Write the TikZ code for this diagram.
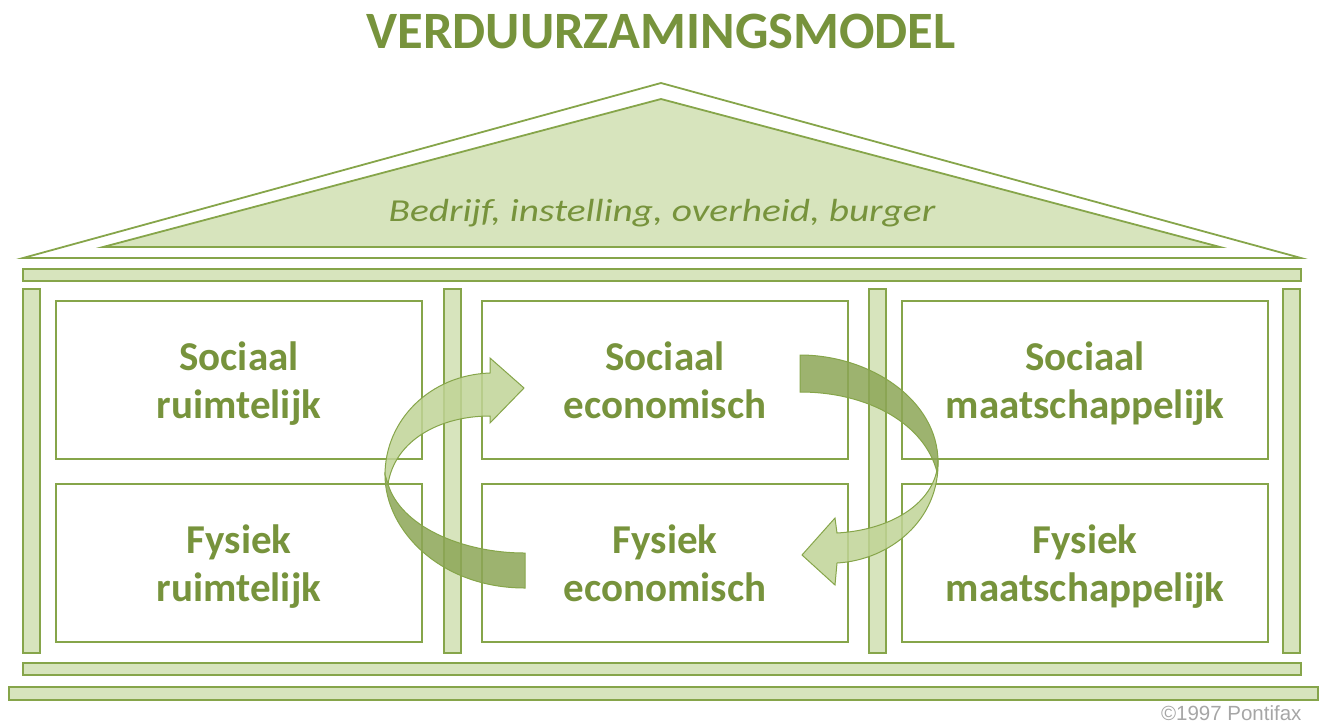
\documentclass[tikz,border=0pt]{standalone}
\usepackage{fontspec}
\setmainfont{Carlito}
\newfontfamily\copyfont{Liberation Sans}
\usetikzlibrary{positioning}
\definecolor{olijf}{RGB}{119,147,60}
\definecolor{lijn}{RGB}{134,165,74}
\definecolor{licht}{RGB}{215,228,189}
\definecolor{pijllicht}{RGB}{192,212,150}
\definecolor{pijldonker}{RGB}{140,166,86}

\begin{document}
\begin{tikzpicture}[x=1pt, y=-1pt,
		vak/.style={rectangle, draw=lijn, line width=2.5pt, minimum width=366pt,
			minimum height=158pt, inner sep=0pt, align=center, text=olijf,
			font=\fontsize{41}{48}\selectfont\bfseries},
		tekst/.style={vak, draw=none, yshift=-5pt},
		balk/.style={draw=lijn, fill=licht, line width=1.8pt},
		pijl/.style={draw=lijn, line width=1pt, fill opacity=0.85}
		]
		\useasboundingbox (0,0) rectangle (1319,724);

		\node[text=olijf, font=\fontsize{52.5}{60}\selectfont\bfseries, anchor=base](titel) at (661,48){VERDUURZAMINGSMODEL};

		\draw[lijn, line width=1.8pt] (23,258) -- (661,83) -- (1301,258) -- cycle;
		\draw[balk] (103,247) -- (661,99) -- (1220,247) -- cycle;
		\node[text=olijf, font=\fontsize{32}{36}\selectfont\itshape, anchor=base, xscale=1.23](dak) at (662,221){Bedrijf, instelling, overheid, burger};

		\draw[balk] (23,269) rectangle (1301,281);
		\draw[balk] (23,289) rectangle (40,653);
		\draw[balk] (444,289) rectangle (461,653);
		\draw[balk] (869,289) rectangle (886,653);
		\draw[balk] (1283,289) rectangle (1300,653);
		\draw[balk] (23,663) rectangle (1301,675);
		\draw[balk] (9,687) rectangle (1318,700);

		\node[vak](SR) at (239,380){};
		\node[vak](SE) at (665,380){};
		\node[vak](SM) at (1085,380){};
		\node[vak, below of = SR, node distance = 183pt](FR){};
		\node[vak, below of = SE, node distance = 183pt](FE){};
		\node[vak, below of = SM, node distance = 183pt](FM){};
		\node[tekst](SRt) at (SR){Sociaal\strut\\ruimtelijk\strut};
		\node[tekst](SEt) at (SE){Sociaal\strut\\economisch\strut};
		\node[tekst](SMt) at (SM){Sociaal\strut\\maatschappelijk\strut};
		\node[tekst](FRt) at (FR){Fysiek\strut\\ruimtelijk\strut};
		\node[tekst](FEt) at (FE){Fysiek\strut\\economisch\strut};
		\node[tekst](FMt) at (FM){Fysiek\strut\\maatschappelijk\strut};

		\draw[pijl, fill=pijldonker] (385,475) .. controls (385,530) and (440,588) .. (525,588)
			-- (525,553) .. controls (460,553) and (400,525) .. (388,484) -- cycle;
		\draw[pijl, fill=pijllicht] (385,475) .. controls (385,420) and (430,375) .. (490,373)
			-- (490,358) -- (524,388) -- (490,423) -- (490,416)
			.. controls (440,416) and (395,440) .. (388,484) -- cycle;

		\draw[pijl, fill=pijldonker] (800,355) .. controls (870,355) and (938,400) .. (938,462)
			-- (937,472) .. controls (925,425) and (870,392) .. (800,392) -- cycle;
		\draw[pijl, fill=pijllicht] (938,460) .. controls (940,520) and (890,560) .. (837,563)
			-- (835,585) -- (802,555) -- (835,518) -- (837,533)
			.. controls (890,530) and (930,505) .. (937,470) -- cycle;

		\node[text=gray!70, font=\copyfont\fontsize{20.5}{24}\selectfont, anchor=base east](copy) at (1305,720){©1997 Pontifax};
	\end{tikzpicture}
\end{document}
